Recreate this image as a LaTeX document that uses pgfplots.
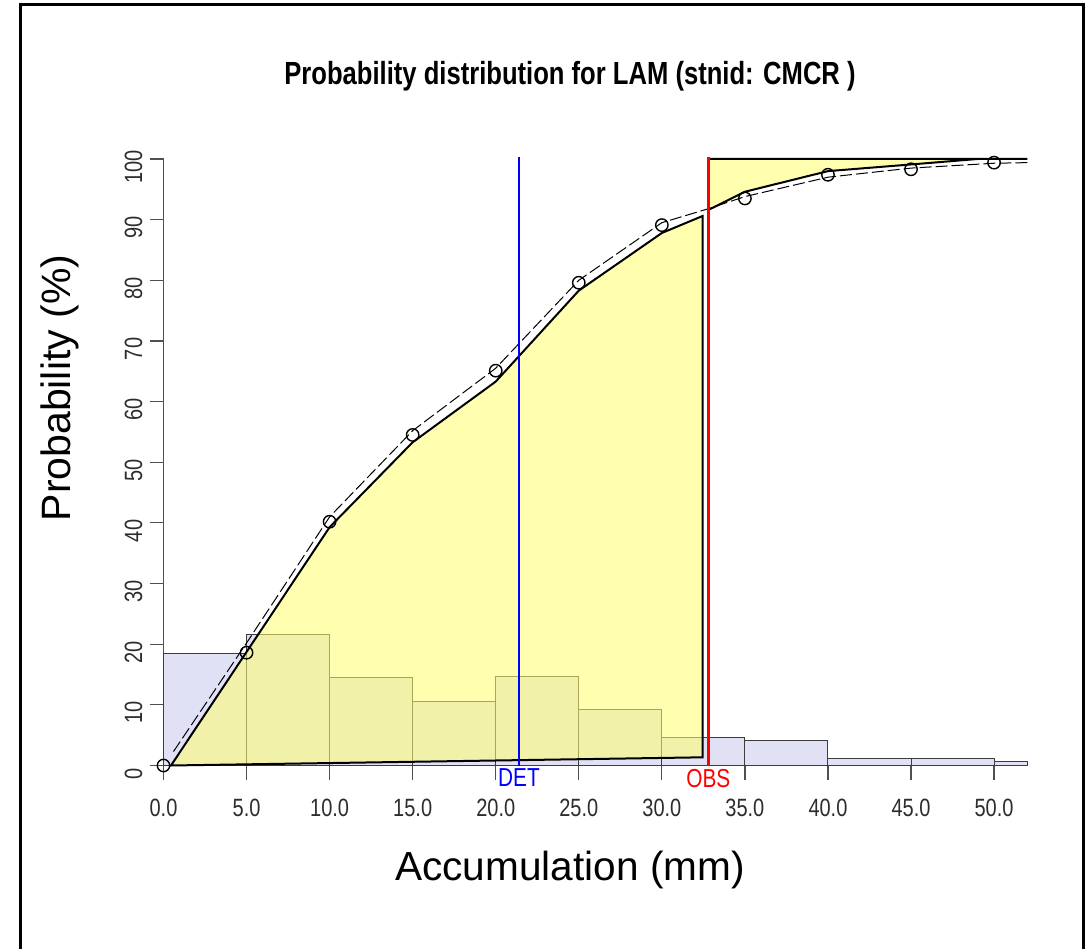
\documentclass[border=0pt]{standalone}
\usepackage{fontspec}
\setmainfont{Liberation Sans}
\newfontfamily\narrowsans[FakeStretch=0.8]{Liberation Sans}
\usepackage{pgfplots}
\pgfplotsset{compat=1.18}

\definecolor{barfill}{RGB}{225,225,245}
\definecolor{baredge}{RGB}{60,60,60}
\definecolor{bandfill}{RGB}{255,255,110}
\definecolor{axisgray}{RGB}{80,80,80}
\definecolor{labelgray}{RGB}{45,45,45}

% histogram of accumulation, 5 mm bins (last bin 50-52)
\pgfplotstableread{
x y
0 18.5
5 21.6
10 14.5
15 10.5
20 14.6
25 9.3
30 4.65
35 4.1
40 1.2
45 1.2
50 0.6
52 0.6
}\histdata

% empirical cumulative probability
\pgfplotstableread{
x y
0 0
5 18.6
10 40.2
15 54.5
20 65.1
25 79.6
30 89.1
35 93.5
40 97.4
45 98.3
50 99.4
}\cdfpoints

\begin{document}
\begin{tikzpicture}
\path[use as bounding box] (0,0) rectangle (545.5pt,474pt);
\draw[line width=1.5pt] (10pt,-5pt) -- (10pt,471.5pt) -- (541.5pt,471.5pt) -- (541.5pt,-5pt);

\begin{axis}[
  at={(81.75pt,91.25pt)}, anchor=south west,
  scale only axis, width=431.9pt, height=303.25pt,
  xmin=0, xmax=52, ymin=0, ymax=100,
  clip=false,
  axis lines*=left,
  axis line style={draw=axisgray, line width=0.6pt},
  tick align=outside, major tick length=7pt,
  tick style={draw=axisgray, line width=0.6pt},
  xtick={0,5,...,50}, ytick={0,10,...,100},
  /pgf/number format/assume math mode=true,
  ticklabel style={font=\narrowsans\fontsize{12.5}{14}\selectfont, text=labelgray},
  xticklabel style={/pgf/number format/fixed, /pgf/number format/fixed zerofill,
    /pgf/number format/precision=1, anchor=north, yshift=-6pt},
  yticklabel style={rotate=90, anchor=south, xshift=-4pt},
]
% histogram bars
\addplot[ybar interval, fill=barfill, draw=baredge, line width=0.5pt] table {\histdata};

% probability band up to the observation
\addplot[fill=bandfill, fill opacity=0.55, draw=black, line width=1pt] coordinates {
  (0.45,0) (10,39.3) (15,53.3) (20,63.3) (25,78.3) (30,87.8) (32.45,90.6) (32.45,1.35)
} -- cycle;

% exceedance band above the observation
\addplot[fill=bandfill, fill opacity=0.55, draw=black, line width=1pt] coordinates {
  (32.8,91.6) (35,94.6) (40,98) (45,99.1) (49,100) (52,100) (32.8,100)
} -- cycle;

% fitted distribution
\addplot[black, line width=0.5pt, dash pattern=on 6pt off 2pt] coordinates {
  (0.6,2.3) (5,20.2) (10,41) (15,55.2) (20,65.5) (25,80) (30,89.5) (32.8,91.8)
  (35,93.8) (40,97) (45,98.5) (50,99.3) (52,99.4)
};

% empirical points
\addplot[only marks, mark=o, mark size=3.1pt, black, mark options={line width=0.7pt}] table {\cdfpoints};

% deterministic forecast and observation
\addplot[blue, line width=1pt] coordinates {(21.4,0) (21.4,100.3)};
\addplot[red, line width=1.5pt] coordinates {(32.8,0) (32.8,100.3)};

\node[anchor=north, text=blue, font=\narrowsans\fontsize{13}{14}\selectfont, inner sep=0pt, yshift=-1.5pt] at (axis cs:21.4,0) {DET};
\node[anchor=north, text=red, font=\narrowsans\fontsize{13}{14}\selectfont, inner sep=0pt, yshift=-1.5pt] at (axis cs:32.8,0) {OBS};
\end{axis}

\node[anchor=base, font=\narrowsans\bfseries\fontsize{16}{18}\selectfont] at (285pt,431.5pt) {Probability distribution for LAM (stnid: CMCR )};
\node[anchor=base, font=\fontsize{20.3}{22}\selectfont] at (285pt,34pt) {Accumulation (mm)};
\node[rotate=90, anchor=base, font=\fontsize{20.5}{22}\selectfont] at (35pt,280pt) {Probability (\%)};
\end{tikzpicture}
\end{document}
